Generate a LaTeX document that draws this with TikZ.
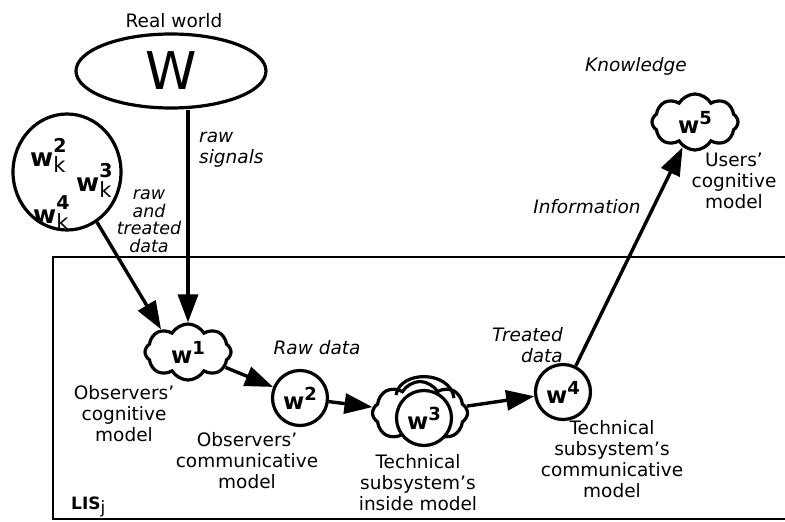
\documentclass[tikz,border=0pt]{standalone}
\usepackage{fontspec}
\setmainfont{DejaVu Sans}
\usetikzlibrary{arrows.meta,shapes.symbols,shapes.geometric}
\newcommand{\mylbl}{\fontsize{18.5}{21}\selectfont}
\newcommand{\wglyph}{{\fontsize{23}{23}\selectfont\bfseries w}}
\newcommand{\supn}[1]{\raisebox{9pt}{\fontsize{18}{18}\selectfont\bfseries #1}}
\newcommand{\wksub}[1]{{\fontsize{25}{25}\selectfont\bfseries w}\rlap{\raisebox{14pt}{\fontsize{19}{19}\selectfont\bfseries #1}}\raisebox{-6pt}{\fontsize{21}{21}\selectfont k}}
\begin{document}
\begin{tikzpicture}[x=1pt,y=-1pt,
  lbl/.style={font=\mylbl, align=center, inner sep=0pt},
  ilbl/.style={font=\mylbl\itshape, align=center, inner sep=0pt},
  arr/.style={line width=3.4pt, -{Triangle[length=28pt,width=20pt]}},
  outline/.style={draw, line width=3.2pt},
  cloudbox/.style={outline, cloud, cloud puffs=8, cloud puff arc=120, aspect=1.6, minimum width=86pt, minimum height=56pt, inner sep=0pt},
  ringbox/.style={outline, circle, minimum size=55pt, inner sep=0pt},
  frame/.style={line width=1.5pt}
]
\useasboundingbox (0,0) rectangle (785,522);
% frame of LIS_j
\draw[frame] (800,257) -- (53,257) -- (53,519) -- (800,519);
% nodes
\node[outline, ellipse, minimum width=190pt, minimum height=74pt, inner sep=0pt] (W) at (171,71) {\fontsize{52}{52}\selectfont W};
\node[lbl] (rw) at (174,21) {Real world};
\node[outline, ellipse, minimum width=108pt, minimum height=116pt, inner sep=0pt] (wk) at (67,172) {};
\node[anchor=base west, inner sep=0pt] (wka) at (30,166) {\wksub{2}};
\node[anchor=base west, inner sep=0pt] (wkb) at (76,191) {\wksub{3}};
\node[anchor=base west, inner sep=0pt] (wkc) at (33,223) {\wksub{4}};
\node[cloudbox] (w1) at (188,352) {\wglyph\supn{1}};
\node[ringbox] (w2) at (300,398) {\wglyph\supn{2}};
\node[cloudbox, minimum width=95pt, minimum height=63pt] (w3c) at (420,413) {};
\node[ringbox, fill=white] (w3) at (424,418) {\wglyph\supn{3}};
\draw[line width=3.2pt] (396,395) .. controls (400,370) and (450,370) .. (454,398);
\node[ringbox] (w4) at (563,392) {\wglyph\supn{4}};
\node[cloudbox] (w5) at (695,122) {\wglyph\supn{5}};
% connectors
\draw[arr] (w1.north |- W.south) -- (w1.north);
\draw[arr] (wk) -- (w1.140);
\draw[arr] (w1) -- (w2);
\draw[arr] (w2) -- (w3c);
\draw[arr] (w3c) -- (w4);
\draw[arr] (w4) -- (w5);
% labels
\node[ilbl, align=left, anchor=west] (rs) at (199,150) {raw\\signals};
\node[ilbl, font=\fontsize{17.5}{17.5}\selectfont\itshape] (rtd) at (149,221) {raw\\and\\treated\\data};
\node[lbl] (oc) at (124,414) {Observers'\\cognitive\\model};
\node[ilbl] (rd) at (317,348) {Raw data};
\node[lbl] (ocm) at (247,461) {Observers'\\communicative\\model};
\node[lbl] (tsi) at (418,483) {Technical\\subsystem's\\inside model};
\node[ilbl, align=right, anchor=east] (td) at (563,345) {Treated\\data};
\node[lbl] (tsc) at (612,459) {Technical\\subsystem's\\communicative\\model};
\node[lbl] (ucm) at (734,181) {Users'\\cognitive\\model};
\node[ilbl] (kn) at (636,66) {Knowledge};
\node[ilbl] (inf) at (587,207) {Information};
\node[anchor=base west, inner sep=0pt, font=\fontsize{17}{17}\selectfont\bfseries] (lis) at (71,509) {LIS\raisebox{-4pt}{\mdseries j}};
\end{tikzpicture}
\end{document}
